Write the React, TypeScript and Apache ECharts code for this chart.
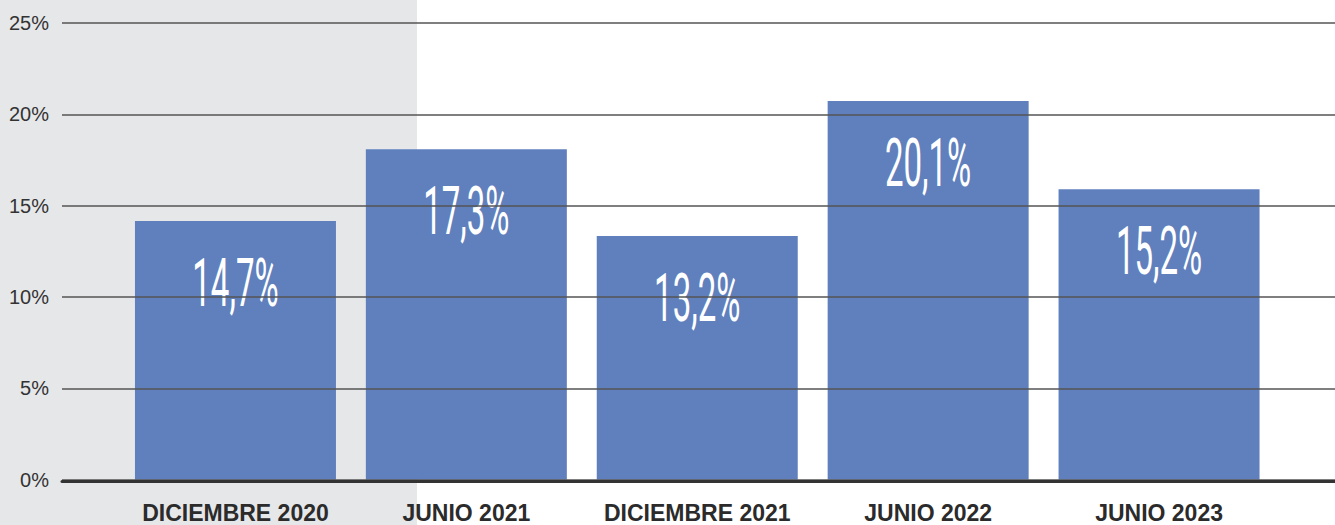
import { useEffect, useRef } from "react";
import * as echarts from "echarts";

const categories = ["DICIEMBRE 2020", "JUNIO 2021", "DICIEMBRE 2021", "JUNIO 2022", "JUNIO 2023"];
const barValues = [14.16, 18.09, 13.34, 20.73, 15.9];
const valueLabels = ["14,7%", "17,3%", "13,2%", "20,1%", "15,2%"];
const yMin = 0;
const yMax = 25;
const yStep = 5;

export default function App() {
  const ref = useRef<HTMLDivElement>(null);
  useEffect(() => {
    document.body.style.margin = "0";
    if (!ref.current) return;
    const chart = echarts.init(ref.current, undefined, { renderer: "svg" });
    const top = 23;
    const bottom = 45.3;
    chart.setOption({
      animation: false,
      graphic: [
        {
          type: "rect",
          x: 0,
          y: 0,
          shape: { width: 417, height: 525 },
          style: { fill: "#E6E7E9" },
          z: -10,
          silent: true,
        },
      ],
      grid: [
        { left: 62, right: 0, top, bottom },
        { left: 120, right: 60.5, top, bottom },
      ],
      xAxis: [
        {
          gridIndex: 0,
          type: "value",
          min: 0,
          max: 1,
          position: "bottom",
          offset: 1.5,
          axisLine: { show: true, onZero: false, lineStyle: { color: "#333", width: 3 } },
          axisLabel: { show: false },
          axisTick: { show: false },
          splitLine: { show: false },
          z: 6,
        },
        {
          gridIndex: 1,
          type: "category",
          data: categories,
          axisLine: { show: false },
          axisTick: { show: false },
          axisLabel: {
            interval: 0,
            margin: 22,
            fontSize: 23,
            fontWeight: "bold",
            color: "#2b2b2b",
            fontFamily: "'Liberation Sans', Arial, sans-serif",
          },
        },
      ],
      yAxis: [
        {
          gridIndex: 0,
          type: "value",
          min: yMin,
          max: yMax,
          interval: yStep,
          axisLine: { show: false },
          axisTick: { show: false },
          axisLabel: {
            formatter: (v: number) => `${v}%`,
            fontSize: 20,
            color: "#333",
            margin: 13,
            fontFamily: "'Liberation Sans', Arial, sans-serif",
          },
          splitLine: { lineStyle: { color: "#555", width: 1.5 } },
          z: 5,
        },
        { gridIndex: 1, type: "value", min: yMin, max: yMax, show: false },
      ],
      series: [
        {
          type: "bar",
          xAxisIndex: 1,
          yAxisIndex: 1,
          data: barValues,
          barWidth: 201,
          itemStyle: { color: "#5F80BD" },
          z: 2,
        },
        {
          type: "custom",
          xAxisIndex: 1,
          yAxisIndex: 1,
          data: barValues.map((v, i) => [i, v]),
          z: 3,
          renderItem: (params: any, api: any) => {
            const p = api.coord([api.value(0), api.value(1)]);
            return {
              type: "text",
              x: p[0],
              y: p[1] + 63,
              scaleX: 0.5,
              style: {
                text: valueLabels[params.dataIndex],
                fill: "#fff",
                fontSize: 66,
                fontFamily: "Roboto, sans-serif",
                fontWeight: 400,
                align: "center",
                verticalAlign: "middle",
              },
            };
          },
        },
      ],
    });
    return () => chart.dispose();
  }, []);
  return <div ref={ref} style={{ width: 1335, height: 525 }} />;
}
